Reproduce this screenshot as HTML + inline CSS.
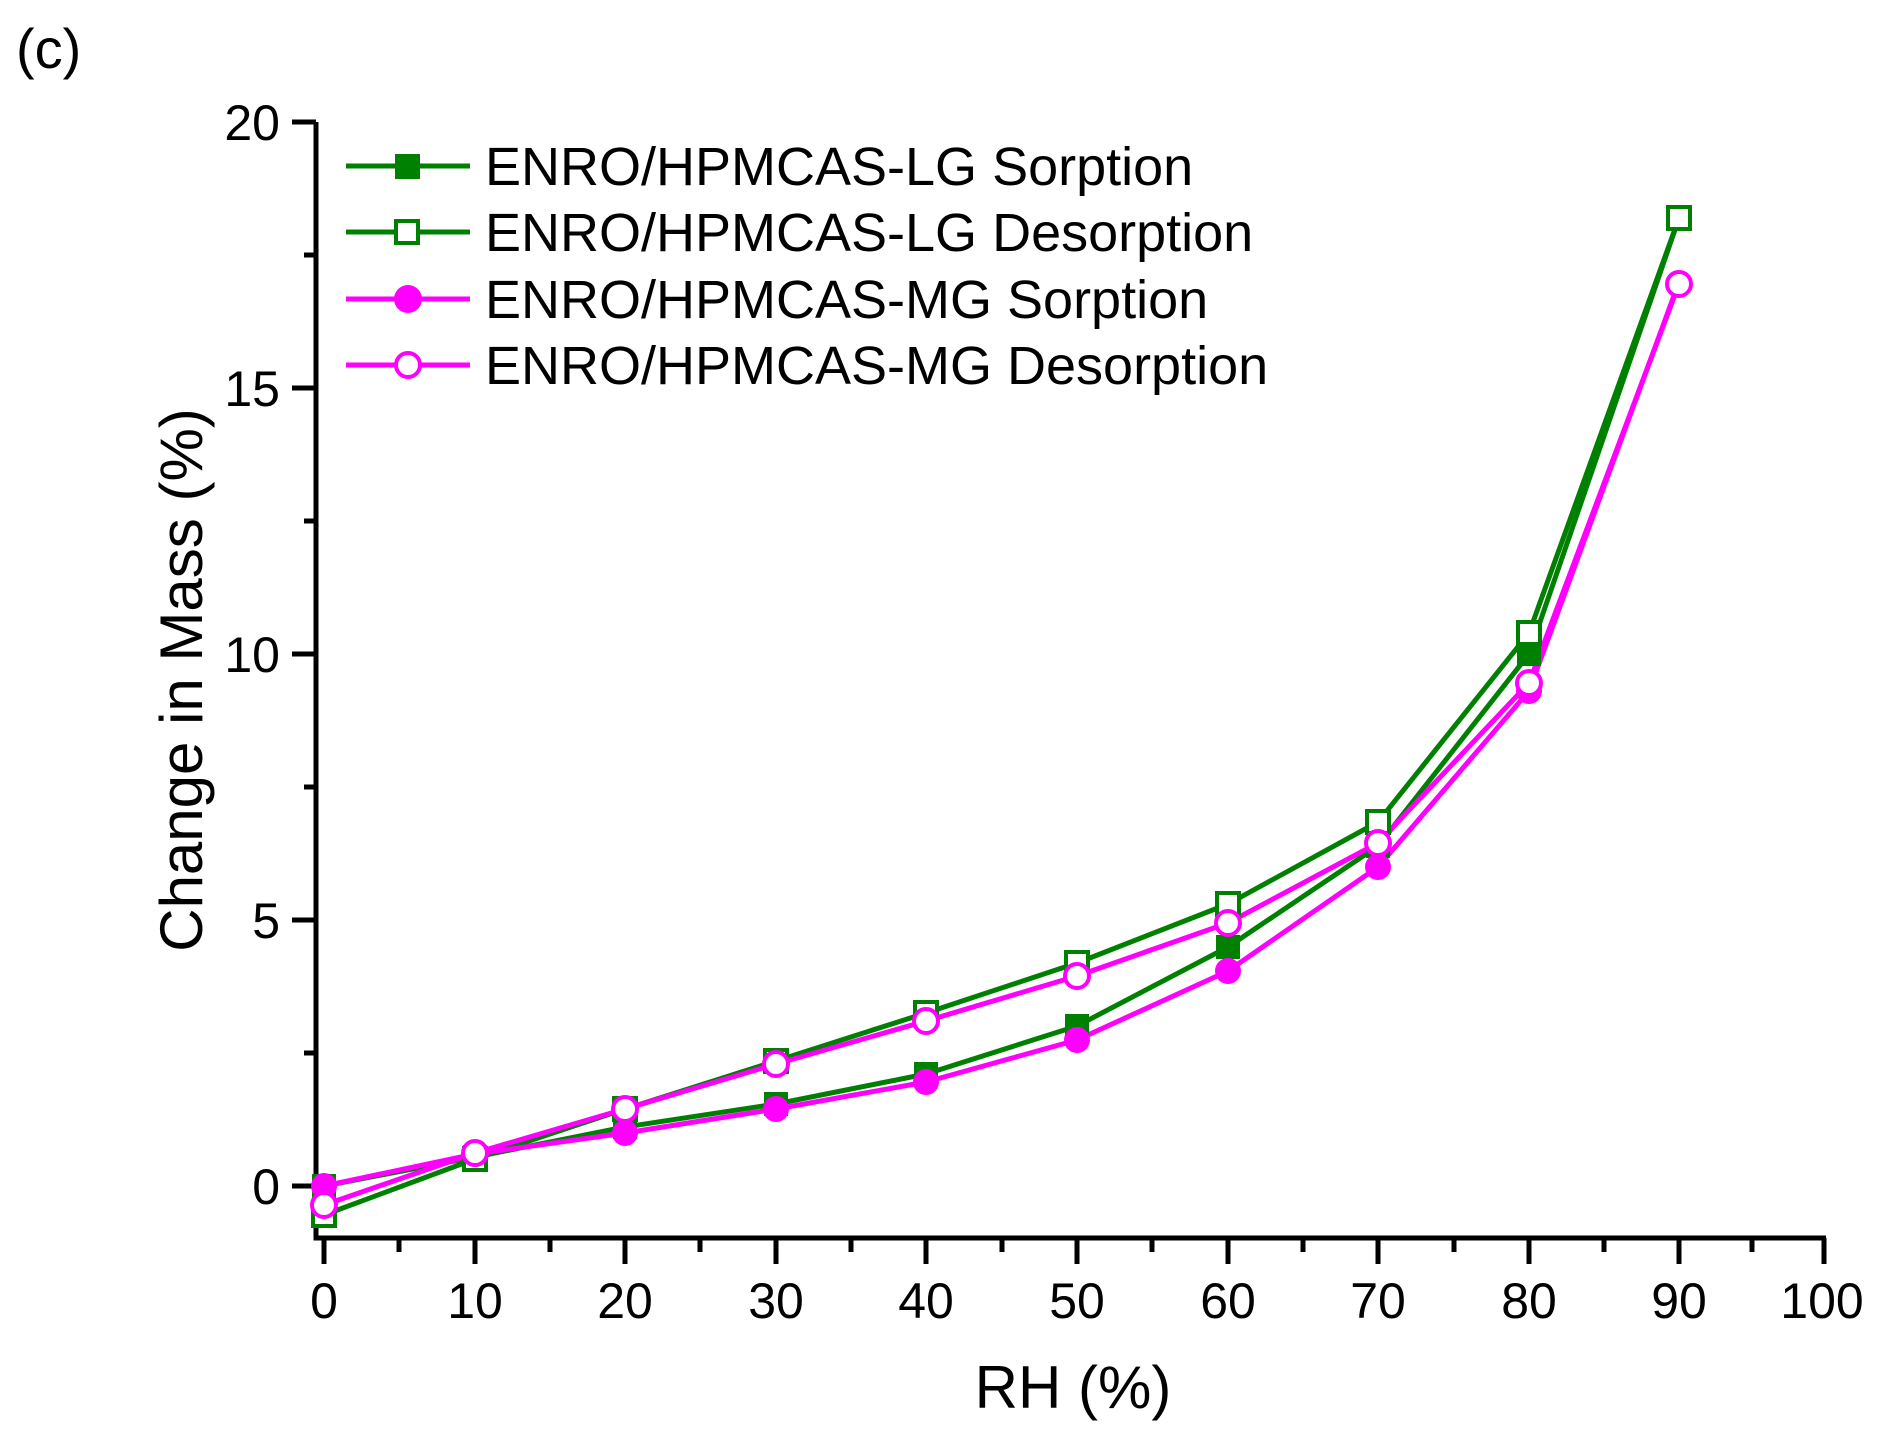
<!DOCTYPE html>
<html><head><style>body{margin:0;background:#fff}svg{display:block}text{font-family:"Liberation Sans",sans-serif}</style></head>
<body>
<svg width="1887" height="1439" viewBox="0 0 1887 1439" xmlns="http://www.w3.org/2000/svg">
<rect width="1887" height="1439" fill="#fff"/>
<text x="16" y="68" font-size="56">(c)</text>
<g stroke="#000" stroke-width="5" fill="none">
<path d="M316,122 V1238 H1826"/>
<path d="M292,122H316 M292,388H316 M292,654H316 M292,920H316 M292,1186H316 M304,255H316 M304,521H316 M304,787H316 M304,1053H316"/>
<path d="M324,1238V1264 M475,1238V1264 M625,1238V1264 M776,1238V1264 M926,1238V1264 M1077,1238V1264 M1228,1238V1264 M1378,1238V1264 M1529,1238V1264 M1679,1238V1264 M1824,1238V1264 M399,1238V1252 M550,1238V1252 M700,1238V1252 M851,1238V1252 M1002,1238V1252 M1152,1238V1252 M1303,1238V1252 M1454,1238V1252 M1604,1238V1252 M1752,1238V1252"/>
</g>
<g font-size="50" text-anchor="end">
<text x="280" y="140">20</text><text x="280" y="406">15</text><text x="280" y="672">10</text><text x="280" y="938">5</text><text x="280" y="1204">0</text>
</g>
<g font-size="50" text-anchor="middle">
<text x="324" y="1318">0</text><text x="475" y="1318">10</text><text x="625" y="1318">20</text><text x="776" y="1318">30</text><text x="926" y="1318">40</text><text x="1077" y="1318">50</text><text x="1228" y="1318">60</text><text x="1378" y="1318">70</text><text x="1529" y="1318">80</text><text x="1679" y="1318">90</text><text x="1822" y="1318">100</text>
</g>
<text x="1073" y="1408" font-size="60" text-anchor="middle">RH (%)</text>
<text transform="translate(202,680) rotate(-90)" font-size="60" text-anchor="middle">Change in Mass (%)</text>
<g fill="none" stroke-width="5" stroke-linejoin="round">
<polyline stroke="#008000" points="324,1186 475,1157 625,1127 776,1104 926,1074 1077,1026 1228,947 1378,846 1529,654 1679,218"/>
<polyline stroke="#008000" points="1679,218 1529,633 1378,822 1228,904 1077,963 926,1013 776,1061 625,1109 475,1159 324,1215"/>
<polyline stroke="#ff00ff" points="324,1186 475,1154 625,1133 776,1109 926,1082 1077,1040 1228,971 1378,867 1529,691 1679,282"/>
<polyline stroke="#ff00ff" points="1679,284 1529,683 1378,843 1228,923 1077,976 926,1021 776,1064 625,1109 475,1153 324,1205"/>
</g>
<g fill="#008000">
<rect x="312" y="1174" width="24" height="24"/><rect x="463" y="1145" width="24" height="24"/><rect x="613" y="1115" width="24" height="24"/><rect x="764" y="1092" width="24" height="24"/><rect x="914" y="1062" width="24" height="24"/><rect x="1065" y="1014" width="24" height="24"/><rect x="1216" y="935" width="24" height="24"/><rect x="1366" y="834" width="24" height="24"/><rect x="1517" y="642" width="24" height="24"/>
</g>
<g fill="#fff" stroke="#008000" stroke-width="4">
<rect x="1668" y="207" width="22" height="22"/><rect x="1518" y="622" width="22" height="22"/><rect x="1367" y="811" width="22" height="22"/><rect x="1217" y="893" width="22" height="22"/><rect x="1066" y="952" width="22" height="22"/><rect x="915" y="1002" width="22" height="22"/><rect x="765" y="1050" width="22" height="22"/><rect x="614" y="1098" width="22" height="22"/><rect x="464" y="1148" width="22" height="22"/><rect x="313" y="1204" width="22" height="22"/>
</g>
<g fill="#ff00ff">
<circle cx="324" cy="1186" r="13"/><circle cx="475" cy="1154" r="13"/><circle cx="625" cy="1133" r="13"/><circle cx="776" cy="1109" r="13"/><circle cx="926" cy="1082" r="13"/><circle cx="1077" cy="1040" r="13"/><circle cx="1228" cy="971" r="13"/><circle cx="1378" cy="867" r="13"/><circle cx="1529" cy="691" r="13"/>
</g>
<g fill="#fff" stroke="#ff00ff" stroke-width="4">
<circle cx="1679" cy="284" r="12"/><circle cx="1529" cy="683" r="12"/><circle cx="1378" cy="843" r="12"/><circle cx="1228" cy="923" r="12"/><circle cx="1077" cy="976" r="12"/><circle cx="926" cy="1021" r="12"/><circle cx="776" cy="1064" r="12"/><circle cx="625" cy="1109" r="12"/><circle cx="475" cy="1153" r="12"/><circle cx="324" cy="1205" r="12"/>
</g>
<g stroke-width="5">
<line x1="346" y1="166" x2="470" y2="166" stroke="#008000"/>
<line x1="346" y1="232" x2="470" y2="232" stroke="#008000"/>
<line x1="346" y1="299" x2="470" y2="299" stroke="#ff00ff"/>
<line x1="346" y1="365" x2="470" y2="365" stroke="#ff00ff"/>
</g>
<rect x="395" y="154" width="25" height="25" fill="#008000"/>
<rect x="396" y="221" width="22" height="22" fill="#fff" stroke="#008000" stroke-width="4"/>
<circle cx="408" cy="299" r="14" fill="#ff00ff"/>
<circle cx="408" cy="365" r="12" fill="#fff" stroke="#ff00ff" stroke-width="4"/>
<g font-size="54">
<text x="485" y="185">ENRO/HPMCAS-LG Sorption</text>
<text x="485" y="251">ENRO/HPMCAS-LG Desorption</text>
<text x="485" y="318">ENRO/HPMCAS-MG Sorption</text>
<text x="485" y="384">ENRO/HPMCAS-MG Desorption</text>
</g>
</svg>
</body></html>
